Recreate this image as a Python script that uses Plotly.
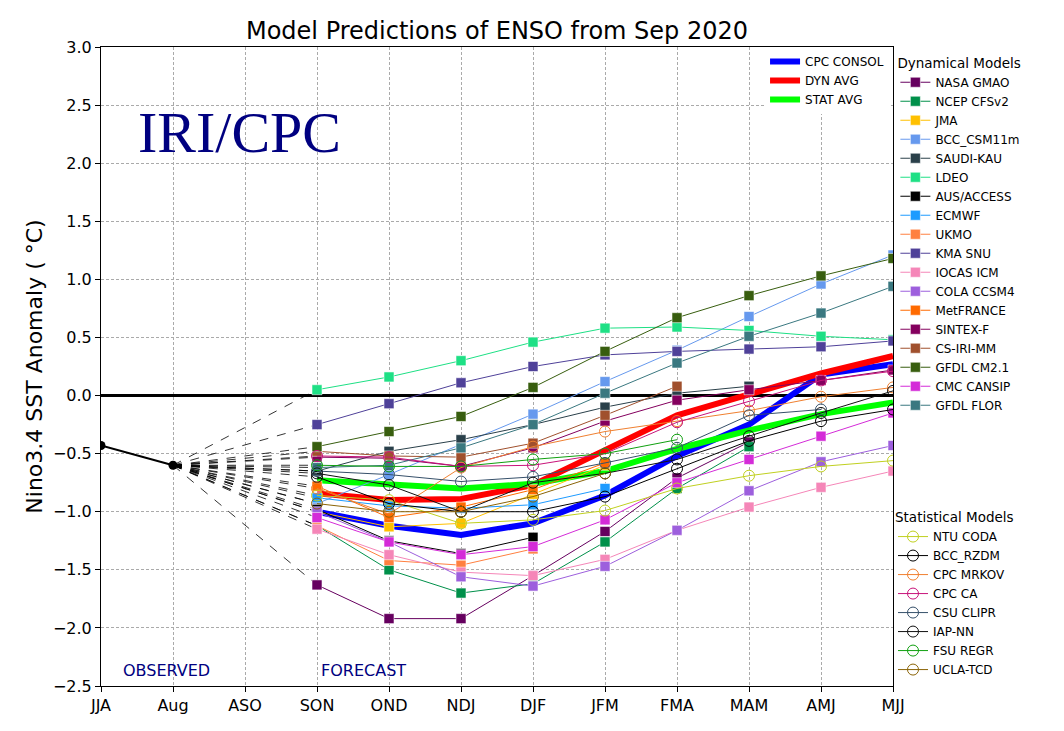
import plotly.graph_objects as go

# ---------------- data ----------------
seasons = ["JJA", "Aug", "ASO", "SON", "OND", "NDJ", "DJF", "JFM", "FMA", "MAM", "AMJ", "MJJ"]
forecast_seasons = ["SON", "OND", "NDJ", "DJF", "JFM", "FMA", "MAM", "AMJ", "MJJ"]
observed_seasons = ["JJA", "Aug"]
observed_values = [-0.43, -0.60]

cpc_consol = [-1.00, -1.12, -1.20, -1.10, -0.86, -0.52, -0.25, 0.18, 0.27]
dyn_avg = [-0.84, -0.90, -0.89, -0.77, -0.47, -0.17, 0.01, 0.19, 0.34]
stat_avg = [-0.73, -0.77, -0.80, -0.76, -0.65, -0.46, -0.30, -0.16, -0.06]

# Dynamical models (SON .. MJJ)
nasa_gmao = [-1.63, -1.92, -1.92, -1.55, -1.17, -0.71, -0.40, None, None]
ncep_cfsv2 = [-1.12, -1.50, -1.70, -1.62, -1.26, -0.80, -0.44, None, None]
jma = [-1.00, -1.13, -1.10, -0.85, -0.60, None, None, None, None]
bcc_csm11m = [-0.93, -0.68, -0.42, -0.16, 0.12, 0.39, 0.68, 0.96, 1.21]
saudi_kau = [-0.65, -0.48, -0.38, -0.25, -0.10, 0.02, 0.08, None, None]
ldeo = [0.05, 0.16, 0.30, 0.46, 0.58, 0.59, 0.56, 0.51, 0.48]
aus_access = [-0.98, -1.25, -1.36, -1.22, None, None, None, None, None]
ecmwf = [-0.88, -0.95, -0.97, -0.94, -0.80, None, None, None, None]
ukmo = [-1.12, -1.42, -1.46, -1.32, None, None, None, None, None]
kma_snu = [-0.25, -0.07, 0.11, 0.25, 0.35, 0.38, 0.40, 0.42, 0.47]
iocas_icm = [-1.15, -1.37, -1.52, -1.55, -1.41, -1.16, -0.96, -0.79, -0.65]
cola_ccsm4 = [-1.00, -1.26, -1.56, -1.64, -1.47, -1.16, -0.82, -0.57, -0.43]
metfrance = [-0.78, -1.05, -0.96, -0.81, -0.58, None, None, None, None]
sintex_f = [-0.53, -0.54, -0.61, -0.45, -0.22, -0.04, 0.05, 0.13, 0.22]
cs_iri_mm = [-0.48, -0.52, -0.53, -0.41, -0.17, 0.08, None, None, None]
gfdl_cm21 = [-0.44, -0.31, -0.18, 0.07, 0.38, 0.67, 0.86, 1.03, 1.18]
cmc_cansip = [-1.05, -1.26, -1.37, -1.30, -1.07, -0.75, -0.55, -0.35, -0.15]
gfdl_flor = [-0.62, -0.60, -0.45, -0.25, 0.02, 0.28, 0.51, 0.71, 0.94]

# Statistical models (SON .. MJJ)
ntu_coda = [-0.86, -0.90, -1.10, -1.07, -0.99, -0.80, -0.69, -0.61, -0.56]
bcc_rzdm = [-0.70, -0.93, -1.00, -1.00, -0.87, -0.63, -0.39, -0.22, -0.12]
cpc_mrkov = [-0.80, -1.02, -0.62, -0.44, -0.31, -0.22, -0.13, -0.01, 0.07]
cpc_ca = [-0.52, -0.53, -0.61, -0.60, -0.50, -0.23, -0.05, 0.13, 0.21]
csu_clipr = [-0.65, -0.68, -0.74, -0.70, -0.58, -0.45, -0.17, -0.12, None]
iap_nn = [-0.67, -0.77, -1.00, -0.75, -0.67, -0.55, -0.35, -0.15, 0.04]
fsu_regr = [-0.60, -0.61, -0.61, -0.55, -0.50, -0.38, None, None, None]
ucla_tcd = [-0.93, -1.00, -1.00, -0.87, -0.67, None, None, None, None]

dynamical = [
    ("NASA GMAO", nasa_gmao, "#66005F"),
    ("NCEP CFSv2", ncep_cfsv2, "#00904A"),
    ("JMA", jma, "#FFC000"),
    ("BCC_CSM11m", bcc_csm11m, "#6699EE"),
    ("SAUDI-KAU", saudi_kau, "#2A404A"),
    ("LDEO", ldeo, "#1EE085"),
    ("AUS/ACCESS", aus_access, "#000000"),
    ("ECMWF", ecmwf, "#1E9BFF"),
    ("UKMO", ukmo, "#FF8040"),
    ("KMA SNU", kma_snu, "#4F4199"),
    ("IOCAS ICM", iocas_icm, "#F586B8"),
    ("COLA CCSM4", cola_ccsm4, "#9D5FDD"),
    ("MetFRANCE", metfrance, "#FF6A00"),
    ("SINTEX-F", sintex_f, "#84005E"),
    ("CS-IRI-MM", cs_iri_mm, "#A0502D"),
    ("GFDL CM2.1", gfdl_cm21, "#385E0F"),
    ("CMC CANSIP", cmc_cansip, "#D42BD8"),
    ("GFDL FLOR", gfdl_flor, "#3A7880"),
]
statistical = [
    ("NTU CODA", ntu_coda, "#C0D020"),
    ("BCC_RZDM", bcc_rzdm, "#000000"),
    ("CPC MRKOV", cpc_mrkov, "#F08030"),
    ("CPC CA", cpc_ca, "#C8147A"),
    ("CSU CLIPR", csu_clipr, "#36506A"),
    ("IAP-NN", iap_nn, "#111111"),
    ("FSU REGR", fsu_regr, "#10A010"),
    ("UCLA-TCD", ucla_tcd, "#8B6508"),
]
averages = [
    ("CPC CONSOL", cpc_consol, "#0000FF"),
    ("DYN AVG", dyn_avg, "#FF0000"),
    ("STAT AVG", stat_avg, "#00FF00"),
]

W, H = 1056, 723          # page body has an 8px margin
L, T = 93, 39             # plot area left / top inside the figure
PW, PH = 792, 639         # plot area size

fig = go.Figure()

# dashed connectors from last observation to each model's first forecast
cx, cy = [], []
for _, vals, _ in dynamical + statistical:
    if vals[0] is not None:
        cx += [observed_seasons[-1], forecast_seasons[0], None]
        cy += [observed_values[-1], vals[0], None]
fig.add_trace(go.Scatter(x=cx, y=cy, mode="lines", showlegend=False, hoverinfo="skip",
                         line=dict(color="black", width=0.8, dash="dash")))

# average lines
for name, vals, col in averages:
    fig.add_trace(go.Scatter(x=forecast_seasons, y=vals, mode="lines", name=name,
                             line=dict(color=col, width=6), legend="legend"))

for name, vals, col in dynamical:
    fig.add_trace(go.Scatter(
        x=forecast_seasons, y=vals, mode="lines+markers", name=name, legend="legend2",
        line=dict(color=col, width=1),
        marker=dict(symbol="square", size=10, color=col,
                    line=dict(color="rgba(255,255,255,0.55)", width=1))))

for name, vals, col in statistical:
    fig.add_trace(go.Scatter(
        x=forecast_seasons, y=vals, mode="lines+markers", name=name, legend="legend3",
        line=dict(color=col, width=1),
        marker=dict(symbol="circle-open", size=11, color=col, line=dict(color=col, width=1))))

# observed
fig.add_trace(go.Scatter(x=observed_seasons, y=observed_values, mode="lines+markers",
                         showlegend=False, line=dict(color="black", width=2),
                         marker=dict(symbol="circle", size=9, color="black")))

grid = dict(showgrid=True, gridcolor="#aaaaaa", griddash="3px,2px", gridwidth=0.8)

fig.update_layout(
    width=W, height=H,
    margin=dict(l=L, r=W - L - PW, t=T, b=H - T - PH),
    paper_bgcolor="white", plot_bgcolor="white",
    font=dict(family="DejaVu Sans", size=12, color="black"),
    title=dict(text="Model Predictions of ENSO from Sep 2020", x=(L + PW / 2) / W,
               xanchor="center", y=1 - 23 / H, yanchor="middle",
               font=dict(size=24, family="DejaVu Sans")),
    xaxis=dict(type="category", categoryorder="array", categoryarray=seasons,
               range=[0, 11], **grid,
               ticks="outside", ticklen=5, tickcolor="black", tickfont=dict(size=16),
               showline=True, linecolor="black", linewidth=1, mirror=True, zeroline=False),
    yaxis=dict(range=[-2.5, 3.0], tickvals=[-2.5, -2.0, -1.5, -1.0, -0.5, 0, 0.5, 1.0, 1.5, 2.0, 2.5, 3.0],
               tickformat=".1f", **grid,
               ticks="outside", ticklen=5, tickcolor="black", tickfont=dict(size=16),
               showline=True, linecolor="black", linewidth=1, mirror=True,
               zeroline=True, zerolinecolor="black", zerolinewidth=3,
               title=dict(text="Nino3.4 SST Anomaly ( °C)", font=dict(size=22), standoff=4)),
    legend=dict(x=0.995, xanchor="right", y=1.0, yanchor="top", bgcolor="white",
                font=dict(size=12), tracegroupgap=0, itemwidth=30),
    legend2=dict(x=1.003, xanchor="left", y=0.995, yanchor="top", bgcolor="rgba(0,0,0,0)",
                 title=dict(text="Dynamical Models", font=dict(size=13.5)),
                 font=dict(size=12), tracegroupgap=0, itemwidth=30),
    legend3=dict(x=1.0, xanchor="left", y=0.284, yanchor="top", bgcolor="rgba(0,0,0,0)",
                 title=dict(text="Statistical Models", font=dict(size=13.5)),
                 font=dict(size=12), tracegroupgap=0, itemwidth=30),
    annotations=[
        dict(text="IRI/CPC", xref="paper", yref="paper", x=(239 - 101) / PW, y=1 - (133 - 47) / PH,
             xanchor="center", yanchor="middle", showarrow=False,
             font=dict(family="Liberation Serif", size=58, color="#000080")),
        dict(text="OBSERVED", xref="paper", yref="paper", x=(166 - 101) / PW, y=(686 - 670) / PH,
             xanchor="center", yanchor="middle",
             showarrow=False, font=dict(size=16, color="#000080")),
        dict(text="FORECAST", xref="paper", yref="paper", x=(363 - 101) / PW, y=(686 - 670) / PH,
             xanchor="center", yanchor="middle",
             showarrow=False, font=dict(size=16, color="#000080")),
    ],
)

fig.write_html("out.html")
